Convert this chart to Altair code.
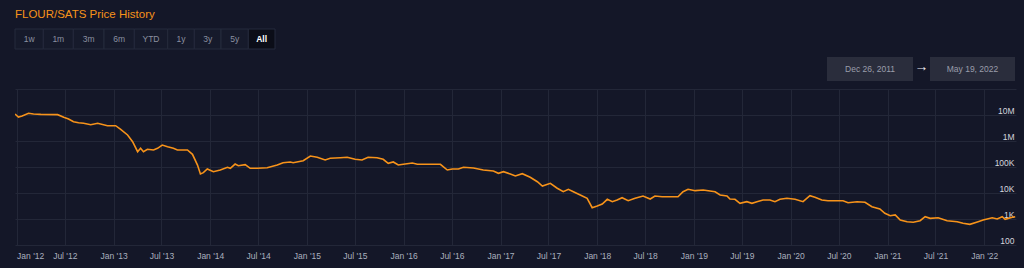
import altair as alt
import pandas as pd

# ---------------- data ----------------
dates = ["2011-12-26","2012-01-08","2012-01-22","2012-02-15","2012-03-05","2012-04-01","2012-06-04","2012-06-27",
         "2012-07-15","2012-08-03","2012-08-22","2012-09-10","2012-10-07","2012-11-02","2012-12-09","2013-01-09",
         "2013-01-28","2013-02-23","2013-03-14","2013-04-02","2013-04-13","2013-04-24","2013-05-09","2013-06-01",
         "2013-06-16","2013-07-04","2013-07-24","2013-08-15","2013-08-30","2013-10-07","2013-10-26","2013-11-14",
         "2013-11-25","2013-12-06","2013-12-21","2014-01-13","2014-02-08","2014-03-07","2014-03-18","2014-04-05",
         "2014-04-17","2014-05-13","2014-06-01","2014-06-28","2014-08-04","2014-09-11","2014-10-03","2014-10-30",
         "2014-11-10","2014-12-18","2015-01-14","2015-02-09","2015-03-11","2015-03-30","2015-05-07","2015-06-02",
         "2015-07-02","2015-07-28","2015-08-20","2015-09-23","2015-10-16","2015-11-04","2015-11-23","2015-12-12",
         "2015-12-31","2016-02-03","2016-02-22","2016-03-31","2016-05-19","2016-06-14","2016-07-03","2016-07-26",
         "2016-08-14","2016-09-21","2016-10-28","2016-12-05","2016-12-24","2017-01-12","2017-02-07","2017-02-26",
         "2017-03-24","2017-04-23","2017-05-20","2017-06-08","2017-07-08","2017-08-03","2017-08-26","2017-09-14",
         "2017-10-03","2017-10-29","2017-11-24","2017-12-13","2018-01-01","2018-01-20","2018-02-08","2018-02-27",
         "2018-03-17","2018-04-05","2018-04-28","2018-05-24","2018-06-23","2018-07-20","2018-08-07","2018-09-03",
         "2018-11-02","2018-11-21","2018-12-10","2019-01-06","2019-02-05","2019-03-22","2019-04-10","2019-05-06",
         "2019-05-17","2019-06-05","2019-06-24","2019-07-20","2019-08-08","2019-08-27","2019-09-19","2019-10-15",
         "2019-11-03","2019-11-22","2019-12-18","2020-01-18","2020-02-17","2020-03-14","2020-04-02","2020-04-28",
         "2020-05-21","2020-07-17","2020-08-05","2020-09-08","2020-10-08","2020-11-03","2020-12-03","2020-12-22",
         "2021-01-11","2021-01-30","2021-02-18","2021-03-16","2021-04-08","2021-05-04","2021-05-23","2021-06-11",
         "2021-07-11","2021-08-14","2021-09-21","2021-10-13","2021-11-08","2021-12-09","2021-12-28","2022-01-31",
         "2022-02-19","2022-03-10","2022-03-21","2022-04-17","2022-04-28"]

prices = [10900000, 8380000, 9150000, 11600000, 10900000, 10600000, 10300000, 8160000,
          7020000, 5520000, 5050000, 4800000, 4240000, 4800000, 3870000, 3870000,
          2820000, 1700000, 940000, 387000, 523000, 387000, 480000, 451000,
          523000, 701000, 604000, 523000, 451000, 451000, 308000, 119000,
          53800, 60400, 83800, 65900, 76700, 97300, 89100, 130000,
          112000, 123000, 89100, 89100, 94000, 119000, 146000, 156000,
          146000, 175000, 265000, 236000, 186000, 216000, 228000, 236000,
          198000, 186000, 236000, 228000, 198000, 139000, 156000, 119000,
          127000, 143000, 127000, 127000, 127000, 76700, 83800, 83800,
          97300, 91500, 76700, 70200, 57200, 65900, 53800, 45100,
          55300, 40200, 27200, 18600, 23600, 15200, 11200, 13900,
          11200, 8380, 6250, 2720, 3160, 3780, 5720, 4630,
          5380, 6590, 5050, 6250, 7670, 5880, 7670, 7210,
          7210, 11200, 13900, 12300, 13000, 11200, 8380, 7670,
          5880, 5720, 4020, 4630, 4020, 4630, 5380, 5380,
          4630, 5720, 6250, 5720, 4630, 7870, 6830, 5380,
          5050, 5050, 4240, 4630, 4390, 2970, 2430, 1660,
          1340, 1430, 915, 787, 746, 861, 1230, 1060,
          1120, 861, 787, 683, 625, 787, 915, 1120,
          1000, 1230, 973, 1160, 1230]

title_text = "FLOUR/SATS Price History"
buttons = ["1w", "1m", "3m", "6m", "YTD", "1y", "3y", "5y", "All"]
selected_button = "All"
range_from = "Dec 26, 2011"
range_to = "May 19, 2022"
y_ticks = [100, 1000, 10000, 100000, 1000000, 10000000, 100000000]
x_tick_years = list(range(2012, 2023))

df = pd.DataFrame({"date": dates, "price": prices})

# ---------------- styles / layout ----------------
BG = "#141728"
GRID = "#232738"
ORANGE = "#f7931a"
FONT = "Liberation Sans"
W, H = 1001, 156
PAD = {"left": 15, "top": 89, "right": 8, "bottom": 23}
BTN_EDGES = [0, 28.3, 58.3, 89, 119.3, 152.7, 179.3, 206, 233.3, 260]
BTN_Y = (-60, -40)
BOX1_X = (812, 898)
BOX2_X = (915, 1000)
BOX_Y = (-32, -8)

tick_values = [alt.DateTime(year=y, month=m, date=1, utc=True)
               for y in x_tick_years for m in (1, 7) if not (y == 2022 and m == 7)]

one = alt.Data(values=[{"k": 1}])


def rect(x1, x2, y1, y2, fill, stroke=None):
    kw = {"fill": fill}
    if stroke:
        kw["stroke"] = stroke
        kw["strokeWidth"] = 1
    return alt.Chart(one).mark_rect(**kw).encode(
        x=alt.value(x1), x2=alt.value(x2), y=alt.value(y1), y2=alt.value(y2))


def text(x, y, s, color, size, align="center", weight="normal"):
    return alt.Chart(one).mark_text(
        text=s, color=color, fontSize=size, align=align, baseline="middle",
        font=FONT, fontWeight=weight).encode(x=alt.value(x), y=alt.value(y))


line = alt.Chart(df).mark_line(color=ORANGE, strokeWidth=1.6, clip=True).encode(
    x=alt.X("date:T",
            scale=alt.Scale(type="utc", domain=[alt.DateTime(year=2011, month=12, date=26, utc=True),
                                                 alt.DateTime(year=2022, month=5, date=1, utc=True)]),
            axis=alt.Axis(title=None, values=tick_values, format="%b '%y", labelFlush=5,
                          labelOverlap=False, domain=False, ticks=False, grid=True,
                          gridColor=GRID, gridWidth=1, labelColor="#aab0bf",
                          labelFontSize=8.5, labelFont=FONT, labelPadding=6)),
    y=alt.Y("price:Q",
            scale=alt.Scale(type="log", domain=[100, 100000000]),
            axis=alt.Axis(title=None, orient="right", values=y_ticks,
                          labelExpr="datum.value >= 1e8 ? '' : datum.value >= 1e6 ? (datum.value/1e6) + 'M' : datum.value >= 1e3 ? (datum.value/1e3) + 'K' : datum.value",
                          domain=False, ticks=False, tickSize=0, grid=True, gridColor=GRID, gridWidth=1,
                          labelAlign="right", labelPadding=-2, labelBaseline="alphabetic", labelOffset=-2,
                          labelOverlap=False, labelColor="#d4d6de", labelFontSize=8.5, labelFont=FONT)),
)

layers = [text(0, -74.5, title_text, ORANGE, 11.5, align="left")]

for i, b in enumerate(buttons):
    x1, x2 = BTN_EDGES[i], BTN_EDGES[i + 1]
    sel = b == selected_button
    layers.append(rect(x1, x2, BTN_Y[0], BTN_Y[1], "#0b0d18" if sel else "#161a2b", "#252a3c"))
    layers.append(text((x1 + x2) / 2, (BTN_Y[0] + BTN_Y[1]) / 2, b,
                       "#ffffff" if sel else "#8b90a0", 8.5, weight="bold" if sel else "normal"))

layers.append(rect(BOX1_X[0], BOX1_X[1], BOX_Y[0], BOX_Y[1], "#2a2d3c"))
layers.append(rect(BOX2_X[0], BOX2_X[1], BOX_Y[0], BOX_Y[1], "#2a2d3c"))
layers.append(text((BOX1_X[0] + BOX1_X[1]) / 2, (BOX_Y[0] + BOX_Y[1]) / 2, range_from, "#9a9dab", 8.5))
layers.append(text((BOX2_X[0] + BOX2_X[1]) / 2, (BOX_Y[0] + BOX_Y[1]) / 2, range_to, "#9a9dab", 8.5))
layers.append(text((BOX1_X[1] + BOX2_X[0]) / 2, (BOX_Y[0] + BOX_Y[1]) / 2 - 2, "→", "#eeeef2", 14, weight="bold"))

chart = alt.layer(line, *layers).properties(
    width=W, height=H, background=BG, padding=PAD,
    autosize=alt.AutoSizeParams(type="none"),
).configure_view(stroke=None)

chart.save("out.html", embed_options={"renderer": "svg", "actions": False})
